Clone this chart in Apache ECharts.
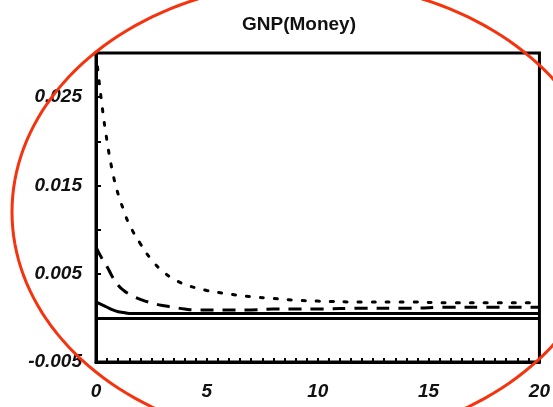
<!DOCTYPE html>
<html>
<head>
<meta charset="utf-8">
<script src="https://cdn.jsdelivr.net/npm/echarts@6/dist/echarts.min.js"></script>
<style>html,body{margin:0;padding:0;background:#fff}#c{width:553px;height:407px}</style>
</head>
<body>
<div id="c"></div>
<script>
var titleText = 'GNP(Money)';
var periods = [0,0.25,0.5,0.75,1,1.25,1.5,2,2.5,3,3.5,4,4.5,5,6,7,8,9,10,12,14,16,18,20];
var dottedVals = [0.0300,0.0245,0.0200,0.0165,0.0140,0.0122,0.0106,0.0084,0.0066,0.0053,0.0044,0.0038,0.0034,0.0031,0.0027,0.0024,0.0022,0.0020,0.0019,0.0018,0.0018,0.0017,0.0017,0.0017];
var dashedVals = [0.0080,0.0068,0.0058,0.0046,0.0037,0.0031,0.0027,0.0021,0.0017,0.0014,0.0012,0.0010,0.0009,0.0009,0.0009,0.0009,0.0010,0.0010,0.0010,0.0011,0.0011,0.0012,0.0012,0.0012];
var solidVals = [0.0018,0.0015,0.0012,0.0009,0.0007,0.0006,0.0005,0.0005,0.0005,0.0005,0.0005,0.0005,0.0005,0.0005,0.0005,0.0005,0.0005,0.0005,0.0005,0.0005,0.0005,0.0005,0.0005,0.0005];
var yTickLabels = ['-0.005','0.005','0.015','0.025'];
var xTickLabels = ['0','5','10','15','20'];

function pairs(vals){ return periods.map(function(p,i){ return [p, vals[i]]; }); }

// red annotation ellipse
var ell = [];
for (var k = 0; k <= 180; k++) {
  var t = k / 180 * Math.PI * 2;
  ell.push([310 + 298 * Math.cos(t), 212 + 230 * Math.sin(t)]);
}

var font = 'Liberation Sans, Arial, sans-serif';
var chart = echarts.init(document.getElementById('c'), null, {renderer:'canvas'});
chart.setOption({
  animation: false,
  backgroundColor: '#fff',
  title: {
    text: titleText, left: 237, top: 10,
    textStyle: {fontFamily: font, fontSize: 19, fontWeight: 'bold', color: '#111'}
  },
  grid: {left: 96, right: 13, top: 53, bottom: 45, show: true, borderColor: '#000', borderWidth: 3, backgroundColor: 'transparent'},
  xAxis: {
    type: 'value', min: 0, max: 20, interval: 5,
    axisLine: {show: true, onZero: false, lineStyle: {color: '#000', width: 3}},
    axisTick: {show: true, inside: true, length: 4, lineStyle: {color: '#000', width: 2}},
    minorTick: {show: true, splitNumber: 10, length: 4, lineStyle: {color: '#000', width: 2}},
    splitLine: {show: false},
    axisLabel: {
      margin: 20, fontFamily: font, fontSize: 19, fontWeight: 'bold', fontStyle: 'italic', color: '#111',
      formatter: function(v){ var s = String(v); return xTickLabels.indexOf(s) >= 0 ? s : ''; }
    }
  },
  yAxis: {
    type: 'value', min: -0.005, max: 0.03, interval: 0.005,
    axisLine: {show: true, onZero: false, lineStyle: {color: '#000', width: 3}},
    axisTick: {show: true, inside: true, length: 5, lineStyle: {color: '#000', width: 2}},
    splitLine: {show: false},
    axisLabel: {
      margin: 14, fontFamily: font, fontSize: 19, fontWeight: 'bold', fontStyle: 'italic', color: '#111',
      formatter: function(v){ var s = (Math.round(v*1000)/1000).toFixed(3); return yTickLabels.indexOf(s) >= 0 ? s : ''; }
    }
  },
  series: [
    {type: 'line', data: pairs(dottedVals), smooth: true, symbol: 'none',
     lineStyle: {color: '#000', width: 3, type: [3, 11], cap: 'round'}},
    {type: 'line', data: pairs(dashedVals), smooth: true, symbol: 'none',
     lineStyle: {color: '#000', width: 3, type: [13, 9]}},
    {type: 'line', data: pairs(solidVals), smooth: true, symbol: 'none',
     lineStyle: {color: '#000', width: 3},
     markLine: {silent: true, symbol: 'none', label: {show: false},
       lineStyle: {color: '#000', width: 3, type: 'solid'}, data: [{yAxis: 0}]}}
  ],
  graphic: [{
    type: 'polygon', shape: {points: ell}, z: 100,
    style: {fill: 'none', stroke: '#f5330f', lineWidth: 3}
  }]
});
</script>
</body>
</html>
